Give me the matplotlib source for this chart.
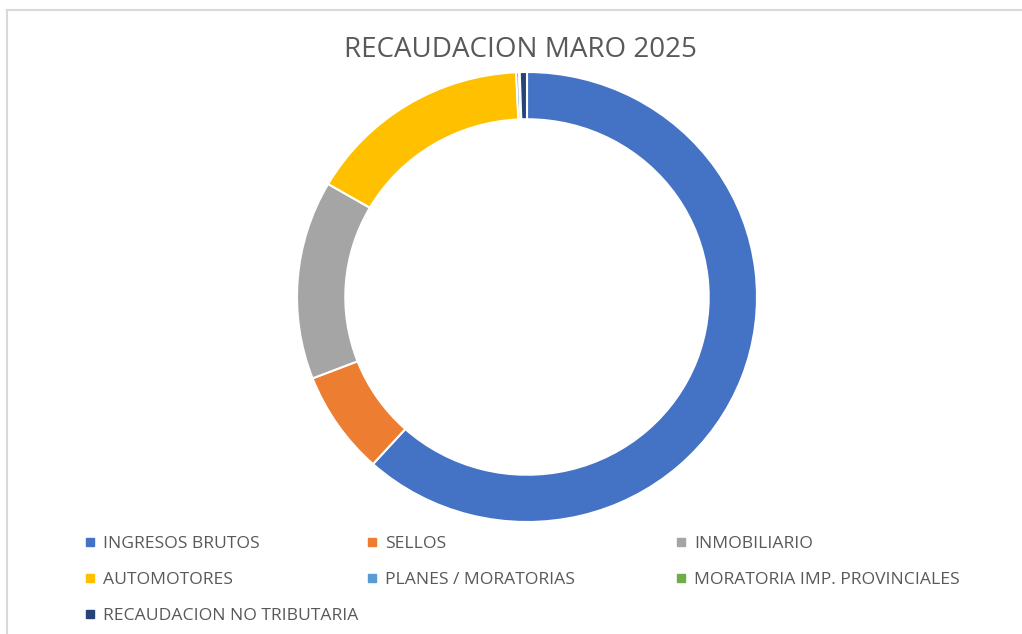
import matplotlib.pyplot as plt
from matplotlib.lines import Line2D

# values (percent of total)
labels = ["INGRESOS BRUTOS", "SELLOS", "INMOBILIARIO", "AUTOMOTORES",
          "PLANES / MORATORIAS", "MORATORIA IMP. PROVINCIALES",
          "RECAUDACION NO TRIBUTARIA"]
values = [61.4, 7.4, 14.2, 15.8, 0.2, 0.05, 0.5]
colors = ["#4472C4", "#ED7D31", "#A5A5A5", "#FFC000",
          "#5B9BD5", "#70AD47", "#264478"]

plt.rcParams["font.family"] = ["Open Sans", "DejaVu Sans"]

W, H = 1022, 634
fig = plt.figure(figsize=(W / 100, H / 100), dpi=100)

# chart area border (top and left only visible)
fig.add_artist(Line2D([7 / W, 7 / W], [0, 1 - 10 / H], color="#D9D9D9", lw=1.5))
fig.add_artist(Line2D([7 / W, 1], [1 - 10 / H, 1 - 10 / H], color="#D9D9D9", lw=1.5))

cx, cy, rx, ry = 527, 297, 230, 225
ax = fig.add_axes([(cx - rx) / W, (H - cy - ry) / H, 2 * rx / W, 2 * ry / H])
wedges, _ = ax.pie(values, colors=colors, startangle=90, counterclock=False,
                   radius=1, wedgeprops=dict(width=0.21, edgecolor="white", linewidth=1.5))
ax.set_xlim(-1, 1)
ax.set_ylim(-1, 1)
ax.set_aspect("auto")
ax.axis("off")

fig.text(520 / W, 1 - 50 / H, "RECAUDACION MARO 2025", ha="center", va="center",
         fontsize=20, color="#595959")

# legend laid out row-wise like the original: one legend per column
cols = [[0, 3, 6], [1, 4], [2, 5]]
xs = [85, 367, 676]
for col, x in zip(cols, xs):
    handles = [Line2D([], [], marker="s", linestyle="", markersize=6,
                      color=colors[i]) for i in col]
    leg = fig.legend(handles, [labels[i] for i in col], loc="upper left",
                     bbox_to_anchor=(x / W, 1 - 536 / H), frameon=False,
                     fontsize=12.6, handlelength=0.6, handletextpad=0.45,
                     labelspacing=1.12, borderpad=0, borderaxespad=0)
    for t in leg.get_texts():
        t.set_color("#595959")

fig.savefig("out.png", dpi=100)
